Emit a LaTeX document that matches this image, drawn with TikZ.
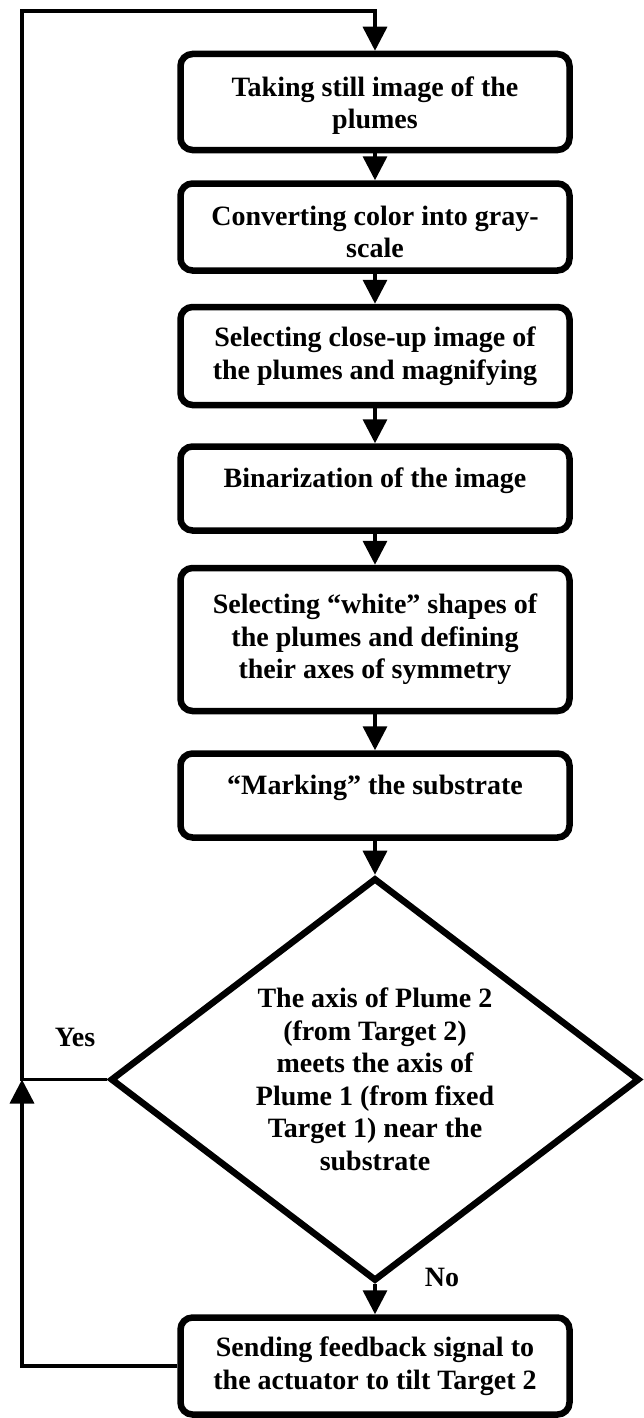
\documentclass[tikz,border=0pt]{standalone}
\usepackage{fontspec}
\setmainfont{Liberation Serif}
\usetikzlibrary{arrows.meta, positioning, shapes.geometric}

\begin{document}
\begin{tikzpicture}[
    x=1pt, y=1pt,
    font=\fontsize{28}{32.5}\selectfont\bfseries,
    stepbox/.style={rectangle, draw=black, line width=6.5pt, rounded corners=12pt, minimum width=389pt, align=center, inner sep=0pt},
    decide/.style={diamond, draw=black, line width=6.5pt, aspect=1.31, minimum width=529pt, minimum height=403pt, align=center, inner sep=0pt},
    flow/.style={-{Triangle[length=24pt, width=24pt]}, line width=3.5pt, draw=black},
    tag/.style={font=\fontsize{28}{32.5}\selectfont\bfseries},
  ]
  \useasboundingbox (0,0) rectangle (644,-1418);

  % Image processing steps
  \node[stepbox, minimum height=96pt, text height=59pt] (still) at (375,-102) {Taking still image of the\\plumes};
  \node[stepbox, minimum height=87pt, text height=62pt, below=27pt of still] (gray) {Converting color into gray-\\scale};
  \node[stepbox, minimum height=98pt, below=30pt of gray] (zoom) {Selecting close-up image of\\the plumes and magnifying};
  \node[stepbox, minimum height=84pt, text depth=22pt, below=35pt of zoom] (binar) {Binarization of the image};
  \node[stepbox, minimum height=143pt, below=31pt of binar] (shapes) {Selecting ``white'' shapes of\\the plumes and defining\\their axes of symmetry};
  \node[stepbox, minimum height=84pt, text depth=22pt, below=36pt of shapes] (mark) {``Marking'' the substrate};

  % Decision
  \node[decide, below=34pt of mark] (check) {The axis of Plume 2\\(from Target 2)\\meets the axis of\\Plume 1 (from fixed\\Target 1) near the\\substrate};

  % Feedback
  \node[stepbox, minimum height=97pt, below=30pt of check] (tilt) {Sending feedback signal to\\the actuator to tilt Target 2};

  % Arrows
  \draw[flow] (still) -- (gray);
  \draw[flow] (gray) -- (zoom);
  \draw[flow] (zoom) -- (binar);
  \draw[flow] (binar) -- (shapes);
  \draw[flow] (shapes) -- (mark);
  \draw[flow] (mark) -- (check);
  \draw[flow] (check) -- (tilt);

  % Loop back
  \coordinate (rail) at (22,-11);
  \draw[flow] (check.west) -| (rail) -| (still.north);
  \draw[flow] (tilt.west) -| (check.west -| rail);

  % Labels
  \node[tag] (yes) at (75,-1037) {Yes};
  \node[tag] (no) at (442,-1277) {No};

\end{tikzpicture}
\end{document}
